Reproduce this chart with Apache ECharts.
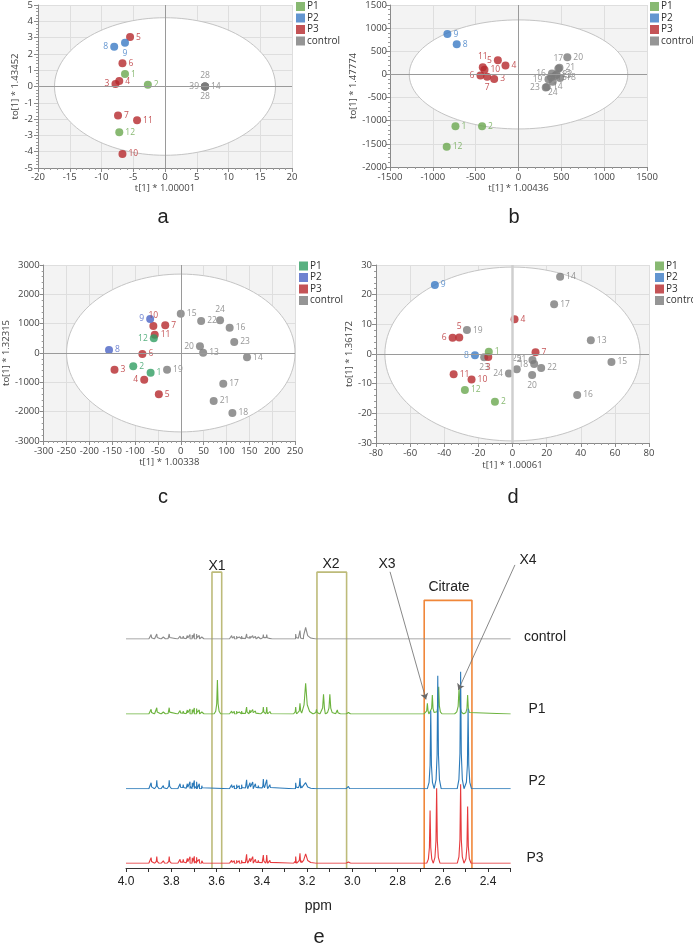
<!DOCTYPE html>
<html><head><meta charset="utf-8">
<script src="https://cdn.jsdelivr.net/npm/echarts@6/dist/echarts.min.js"></script>
<style>html,body{margin:0;padding:0;background:#fff}#c{width:693px;height:944px}</style>
</head><body><div id="c"></div><script>
// ---------- panel a ----------
const aP1 = [[-6.3,0.76,'1'],[-2.7,0.1,'2'],[-7.2,-2.81,'12']];
const aP2 = [[-8.0,2.44,'8'],[-6.3,2.68,'9']];
const aP3 = [[-7.8,0.16,'3'],[-7.2,0.33,'4'],[-5.5,3.03,'5'],[-6.7,1.43,'6'],[-7.4,-1.78,'7'],[-6.7,-4.14,'10'],[-4.4,-2.07,'11']];
const aCtrl = [[6.3,0.0,'28'],[6.3,0.0,'39'],[6.3,0.0,'14'],[6.3,0.0,'28']];
const aEllipse = [0,0,17.4,4.22];
// ---------- panel b ----------
const bP1 = [[-736,-1121,'1'],[-425,-1121,'2'],[-838,-1564,'12']];
const bP2 = [[-721,650,'8'],[-830,871,'9']];
const bP3 = [[-284,-100,'3'],[-152,193,'4'],[-241,307,'5'],[-444,-21,'6'],[-366,-50,'7'],[-397,100,'10'],[-417,157,'11']];
const bCtrl = [[430,-30,'13'],[330,-270,'14'],[380,-60,'15'],[390,20,'16'],[465,125,'17'],[485,-75,'18'],[350,-105,'19'],[570,370,'20'],[478,145,'21'],[445,0,'22'],[318,-285,'23'],[400,-160,'24']];
const bEllipse = [0,0,1275,1178];
// ---------- panel c ----------
const cP1 = [[-66,-670,'1'],[-104,-455,'2'],[-59,500,'12']];
const cP2 = [[-157,102,'8'],[-67,1159,'9']];
const cP3 = [[-145,-568,'3'],[-80,-909,'4'],[-48,-1409,'5'],[-84,-34,'6'],[-34,943,'7'],[-60,920,'10'],[-57,625,'11']];
const cCtrl = [[49,11,'13'],[145,-148,'14'],[0,1341,'15'],[107,864,'16'],[93,-1045,'17'],[113,-2045,'18'],[-30,-568,'19'],[42,227,'20'],[72,-1636,'21'],[44.6,1091,'22'],[117,375,'23'],[86,1114,'24']];
const cEllipse = [0,0,250,2690];
// ---------- panel d ----------
const dP1 = [[-13.9,0.8,'1'],[-10.3,-16.1,'2'],[-27.9,-12.1,'12']];
const dP2 = [[-22,-0.45,'8'],[-45.5,23.3,'9']];
const dP3 = [[-14.2,-1.0,'3'],[1.2,11.75,'4'],[-31.2,5.6,'5'],[-35.1,5.5,'6'],[13.5,0.56,'7'],[-24,-8.6,'10'],[-34.5,-6.8,'11']];
const dCtrl = [[45.9,4.6,'13'],[27.9,26,'14'],[58,-2.7,'15'],[37.9,-13.8,'16'],[24.4,16.8,'17'],[12.7,-3.4,'18'],[-26.7,8.06,'19'],[11.5,-7.05,'20'],[11.7,-2,'21'],[16.8,-4.7,'22'],[-16.6,-1.1,'23'],[-2.1,-6.6,'24'],[2.5,-5.1,'25']];
const dEllipse = [0,0,74.8,29.3];

// ---------- panel e : 1H NMR peaks [ppm, height, half-width] ----------
const specControl = [[3.889,4.5,.002],[3.864,5,.002],[3.835,2,.002],[3.809,5,.002],[3.761,3,.002],[3.747,3,.002],[3.729,3.5,.002],[3.717,4.5,.002],[3.707,4,.002],[3.698,5.5,.002],[3.688,5,.002],[3.676,3.5,.002],[3.665,2,.002],[3.533,3.5,.002],[3.521,2.5,.002],[3.511,3,.002],[3.499,2,.002],[3.489,3,.002],[3.467,5,.002],[3.452,3,.002],[3.440,3.5,.002],[3.428,2.5,.002],[3.415,2,.002],[3.393,4.5,.002],[3.378,4.5,.002],[3.364,2,.002],[3.250,5,.002],[3.231,8.5,.003],[3.206,11.5,.009]];
const specP1 = [[3.889,4.7,.002],[3.864,6.3,.002],[3.835,2,.002],[3.809,6.3,.002],[3.761,3.5,.002],[3.747,3,.002],[3.729,4,.002],[3.717,5,.002],[3.707,4.5,.002],[3.698,6,.002],[3.688,5.5,.002],[3.676,4,.002],[3.665,2,.002],[3.596,34,.003],[3.533,3,.002],[3.521,2.5,.002],[3.511,3,.002],[3.499,2,.002],[3.489,3,.002],[3.467,7,.002],[3.452,4,.002],[3.440,4.5,.002],[3.428,3,.002],[3.415,2,.002],[3.393,7,.002],[3.378,7,.002],[3.364,2.5,.002],[3.250,7,.002],[3.231,10.7,.003],[3.206,30.7,.007],[3.158,4.7,.003],[3.127,19.7,.004],[3.099,19.7,.004],[3.066,4,.003],[3.017,1.5,.002],[2.668,10.7,.003],[2.646,19,.003],[2.618,27.3,.003],[2.528,25.7,.004],[2.490,19,.003]];
const specP2 = [[3.889,6,.002],[3.864,8.3,.002],[3.835,3,.002],[3.809,8.3,.002],[3.761,5,.002],[3.747,4,.002],[3.729,5,.002],[3.717,7,.002],[3.707,6,.002],[3.698,8.3,.002],[3.688,7,.002],[3.676,5,.002],[3.665,3,.002],[3.533,4,.002],[3.521,3,.002],[3.511,4,.002],[3.499,3,.002],[3.489,4,.002],[3.467,9,.002],[3.452,6,.002],[3.440,6.7,.002],[3.428,5,.002],[3.415,3,.002],[3.393,9.7,.002],[3.378,9,.002],[3.364,4,.002],[3.250,6,.002],[3.231,10.7,.003],[3.206,6,.009],[3.017,2.3,.002],[2.653,78,.003],[2.622,113,.003],[2.521,117,.003],[2.488,80,.003]];
const specP3 = [[3.889,5.7,.002],[3.864,6.7,.002],[3.835,2.5,.002],[3.809,6.7,.002],[3.761,4,.002],[3.747,4,.002],[3.729,5,.002],[3.717,6.5,.002],[3.707,5.5,.002],[3.698,7,.002],[3.688,6,.002],[3.676,4,.002],[3.665,2.5,.002],[3.533,3,.002],[3.521,2.5,.002],[3.511,3,.002],[3.499,2.5,.002],[3.489,3,.002],[3.467,9,.002],[3.452,5,.002],[3.440,6.7,.002],[3.428,4,.002],[3.415,3,.002],[3.393,8.3,.002],[3.378,8.3,.002],[3.364,3,.002],[3.250,6.7,.002],[3.231,10,.003],[3.206,9.5,.009],[3.017,1.3,.002],[2.656,52.7,.003],[2.627,75,.003],[2.521,79,.003],[2.490,56.7,.003]];
const ppmRange = [2.3, 4.0];
// highlighted regions [label, from ppm, to ppm, top (0-100 of plot height)]
const regionBoxes = [['X1',3.620,3.577,90.2],['X2',3.156,3.025,90.2],['Citrate',2.682,2.471,81.6]];
// annotation arrows [label, [ppm, y] start, [ppm, y] end]
const arrows = [['X3',[2.833,90.3],[2.674,51.4]],['X4',[2.281,92.4],[2.531,54.3]]];

// ================= build =================
const SF = '"Open Sans","Noto Sans",sans-serif';
const AF = '"Liberation Sans",Arial,sans-serif';
const colStd = {P1:'#6aa84f', P2:'#3b7bc4', P3:'#b5282c', control:'#7b7b7b'};
const colC = {P1:'#2f9e62', P2:'#4a63c4', P3:'#b5282c', control:'#7b7b7b'};
const labelPos = {
  a:{'P2:8':'left','P2:9':'bottom','P3:3':'left','control#0':'top','control#1':'left','control#2':'right','control#3':'bottom'},
  b:{'P3:11':'top','P3:5':'left','P3:6':'left','P3:7':'bottom','control:16':'left','control:17':'top','control:19':'left','control:23':'left','control:24':'bottom'},
  c:{'P1:12':'left','P2:9':'left','P3:4':'left','P3:10':'top','control:20':'left','control:24':'top'},
  d:{'P3:5':'top','P3:6':'left','P2:8':'left','P3:3':'bottom','control:23':'bottom','control:21':'left','control:25':'top','control:18':'left','control:24':'left','control:20':'bottom'}
};
const panels = [
  {k:'a', grid:{left:38,top:5,width:254,height:163}, xr:[-20,20,5], yr:[-5,5,1], xName:'t[1] * 1.00001', yName:'to[1] * 1.43452', xGap:15, yGap:12, xm:4, ym:5, ell:aEllipse, g:{control:aCtrl,P3:aP3,P1:aP1,P2:aP2}, col:colStd, leg:{left:296,top:1.5}, let:[163,217], zx:{color:'#9a9a9a',width:1}, zy:{color:'#9a9a9a',width:1}},
  {k:'b', grid:{left:390,top:3,width:257,height:164}, xr:[-1500,1500,500], yr:[-2000,1500,500], xName:'t[1] * 1.00436', yName:'to[1] * 1.47774', xGap:16, yGap:27, xm:5, ym:3, ell:bEllipse, g:{control:bCtrl,P3:bP3,P1:bP1,P2:bP2}, col:colStd, leg:{left:650,top:1.5}, let:[514,217], zx:{color:'#9a9a9a',width:1}, zy:{color:'#9a9a9a',width:1}},
  {k:'c', grid:{left:36,top:265,width:259,height:176}, xr:[-300,250,50], yr:[-3000,3000,1000], xName:'t[1] * 1.00338', yName:'to[1] * 1.32315', xGap:16, yGap:29, xm:5, ym:4, ell:cEllipse, g:{control:cCtrl,P3:cP3,P1:cP1,P2:cP2}, col:colC, leg:{left:299,top:261}, let:[163,497], zx:{color:'#9a9a9a',width:1}, zy:{color:'#9a9a9a',width:1}},
  {k:'d', grid:{left:376,top:265,width:273,height:178}, xr:[-80,80,20], yr:[-30,30,10], xName:'t[1] * 1.00061', yName:'to[1] * 1.36172', xGap:17, yGap:18, xm:5, ym:4, ell:dEllipse, g:{control:dCtrl,P3:dP3,P1:dP1,P2:dP2}, col:colStd, leg:{left:655,top:261}, let:[513,497], zx:{color:'#cfcfcf',width:2.5}, zy:{color:'#9a9a9a',width:1}}
];

const grid=[], xAxis=[], yAxis=[], series=[], legend=[], graphic=[];
panels.forEach((p,i)=>{
  grid.push(Object.assign({show:true, backgroundColor:'#f3f3f3', borderWidth:0}, p.grid));
  const ax = (r, name, gap, m)=>({
    type:'value', gridIndex:i, min:r[0], max:r[1], interval:r[2],
    name:name, nameLocation:'middle', nameGap:gap,
    nameTextStyle:{fontFamily:SF, fontSize:9.5, color:'#444'},
    axisLine:{show:true, onZero:false, lineStyle:{color:'#8a8a8a', width:1}},
    axisTick:{show:true, length:4, lineStyle:{color:'#8a8a8a'}},
    minorTick:{show:true, splitNumber:5, length:2, lineStyle:{color:'#9a9a9a'}},
    splitLine:{show:true, lineStyle:{color:'#dedede', width:1}},
    axisLabel:{fontFamily:SF, fontSize:9.5, color:'#444', margin:m, formatter:v=>String(v)}
  });
  xAxis.push(ax(p.xr, p.xName, p.xGap, p.xm));
  yAxis.push(ax(p.yr, p.yName, p.yGap, p.ym));
  series.push({
    type:'custom', xAxisIndex:i, yAxisIndex:i, z:1, silent:true,
    data:[p.ell],
    renderItem:(params, api)=>{
      const c = api.coord([api.value(0), api.value(1)]);
      const ex = api.coord([api.value(0)+api.value(2), api.value(1)]);
      const ey = api.coord([api.value(0), api.value(1)+api.value(3)]);
      return {type:'ellipse', shape:{cx:c[0], cy:c[1], rx:Math.abs(ex[0]-c[0]), ry:Math.abs(c[1]-ey[1])},
        style:{fill:'#ffffff', stroke:'#c4c4c4', lineWidth:1}};
    }
  });
  Object.keys(p.g).forEach((grp, gi)=>{
    const col = p.col[grp];
    const s = {
      type:'scatter', name:grp, xAxisIndex:i, yAxisIndex:i, z:3,
      symbol:'circle', symbolSize:8, itemStyle:{color:col},
      label:{show:true, formatter:'{b}', position:'right', distance:2, fontFamily:SF, fontSize:8.5, color:col},
      data:p.g[grp].map((d,j)=>{
        const lp = labelPos[p.k][grp+':'+d[2]] || labelPos[p.k][grp+'#'+j] || 'right';
        return {name:d[2], value:[d[0],d[1]], label:{position:lp}};
      })
    };
    if(gi===0){
      s.markLine = {silent:true, symbol:'none', animation:false, label:{show:false},
        data:[{xAxis:0, lineStyle:Object.assign({type:'solid'},p.zx)},{yAxis:0, lineStyle:Object.assign({type:'solid'},p.zy)}]};
    }
    series.push(s);
  });
  legend.push({orient:'vertical', left:p.leg.left, top:p.leg.top, padding:0, icon:'rect', itemWidth:9, itemHeight:9, itemGap:1.5,
    textStyle:{fontFamily:SF, fontSize:10, color:'#333', lineHeight:10, padding:[0,0,0,-3]},
    selectedMode:false,
    data:['P1','P2','P3','control'].map(n=>({name:n, itemStyle:{color:p.col[n]}}))});
  graphic.push({type:'text', x:p.let[0], y:p.let[1], style:{text:p.k, fontFamily:AF, fontSize:20, fill:'#222', align:'center', verticalAlign:'middle'}});
});

// ---- panel e ----
const PX = 226.25, eLeft = 126;
const eW = (ppmRange[1]-ppmRange[0])*PX;
function traceData(peaks){
  const pts = [[ppmRange[1],0],[ppmRange[0],0]];
  peaks.forEach(([c,h,w])=>{
    pts.push([c+5*w,0],[c+2.5*w,0.08*h],[c+w,0.3*h],[c,h],[c-w,0.3*h],[c-2.5*w,0.08*h],[c-5*w,0]);
  });
  pts.sort((u,v)=>v[0]-u[0]);
  return pts;
}
const traces = [
  ['control', specControl, '#8c8c8c', 639],
  ['P1', specP1, '#6cb33e', 714],
  ['P2', specP2, '#2a79b9', 788.7],
  ['P3', specP3, '#e63a3d', 863.3]
];
let gi = grid.length;
grid.push({left:eLeft, top:540, width:eW, height:328});
xAxis.push({type:'value', gridIndex:gi, inverse:true, min:ppmRange[0], max:ppmRange[1], interval:0.1,
  name:'ppm', nameLocation:'middle', nameGap:31, nameTextStyle:{fontFamily:AF, fontSize:14, color:'#222'},
  axisLine:{onZero:false, lineStyle:{color:'#333', width:1}}, axisTick:{length:4, lineStyle:{color:'#333'}},
  splitLine:{show:false},
  axisLabel:{fontFamily:AF, fontSize:12, color:'#222', margin:8,
    formatter:v=>(Math.round(v*10)%2===0 ? v.toFixed(1) : '')}});
yAxis.push({type:'value', gridIndex:gi, min:0, max:100, show:false});
const boxColors = {X1:'#bdbb7a', X2:'#bdbb7a', Citrate:'#f0873a'};
regionBoxes.forEach(b=>{
  series.push({type:'line', xAxisIndex:gi, yAxisIndex:gi, showSymbol:false, silent:true, z:1,
    lineStyle:{color:boxColors[b[0]], width:1.6},
    data:[[b[1],0],[b[1],b[3]],[b[2],b[3]],[b[2],0]]});
});
const ag = grid.length;
grid.push({left:eLeft, top:540, width:1.8*PX, height:328});
xAxis.push({type:'value', gridIndex:ag, inverse:true, min:2.2, max:4.0, show:false});
yAxis.push({type:'value', gridIndex:ag, min:0, max:100, show:false});
series.push({type:'lines', coordinateSystem:'cartesian2d', xAxisIndex:ag, yAxisIndex:ag, z:5, silent:true,
  symbol:['none','arrow'], symbolSize:6,
  lineStyle:{color:'#6a6a6a', width:0.8, opacity:1},
  data:arrows.map(a=>({coords:[a[1],a[2]]}))});
traces.forEach(t=>{
  const k = grid.length;
  grid.push({left:eLeft, top:t[3]-150, width:eW, height:150});
  xAxis.push({type:'value', gridIndex:k, inverse:true, min:ppmRange[0], max:ppmRange[1], show:false});
  yAxis.push({type:'value', gridIndex:k, min:0, max:150, show:false});
  series.push({type:'line', name:'spec-'+t[0], xAxisIndex:k, yAxisIndex:k, showSymbol:false, silent:true, z:3,
    lineStyle:{color:t[2], width:1.1}, data:traceData(t[1])});
});
const eTexts = [['X1',217,566],['X2',331,564],['X3',387,564],['X4',528,560],['Citrate',449,587],
  ['control',545,637],['P1',537,709],['P2',537,781],['P3',535,858]];
eTexts.forEach(t=>graphic.push({type:'text', x:t[1], y:t[2], style:{text:t[0], fontFamily:AF, fontSize:14, fill:'#222', align:'center', verticalAlign:'middle'}}));
graphic.push({type:'text', x:319, y:937, style:{text:'e', fontFamily:AF, fontSize:20, fill:'#222', align:'center', verticalAlign:'middle'}});

const chart = echarts.init(document.getElementById('c'), null, {renderer:'canvas', width:693, height:944});
chart.setOption({animation:false, backgroundColor:'#ffffff', grid, xAxis, yAxis, series, legend, graphic});
</script></body></html>
